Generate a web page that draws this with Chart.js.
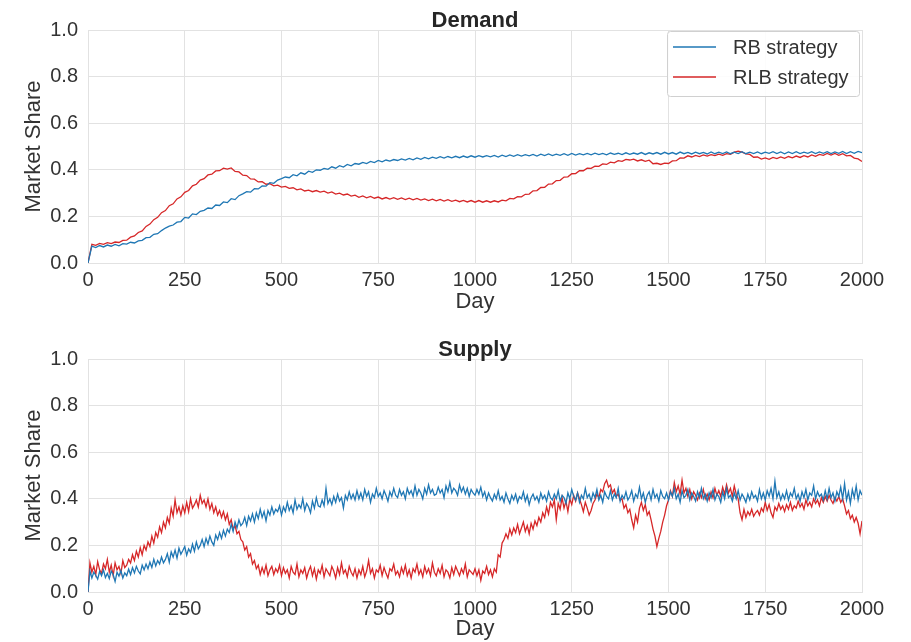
<!DOCTYPE html>
<html>
<head>
<meta charset="utf-8">
<script src="https://cdn.jsdelivr.net/npm/chart.js@4.4.1/dist/chart.umd.min.js"></script>
<style>
  html, body { margin: 0; padding: 0; background: #fff; }
  .panel { position: absolute; left: 0; width: 911px; height: 321px; }
  #demandPanel { top: 0; }
  #supplyPanel { top: 321px; }
</style>
</head>
<body>
<div class="panel" id="demandPanel"><canvas id="demandChart"></canvas></div>
<div class="panel" id="supplyPanel"><canvas id="supplyChart"></canvas></div>
<script>
// demand: one value every 10 days, supply: one every 5 days (day 0 .. 2000)
const DEMAND_STEP = 10;
const SUPPLY_STEP = 5;
const dayTicks = [0, 250, 500, 750, 1000, 1250, 1500, 1750, 2000];
const shareTicks = [0, 0.2, 0.4, 0.6, 0.8, 1.0];
const seriesNames = ['RB strategy', 'RLB strategy'];

const demandRB = [
  0.000, 0.072, 0.066, 0.075, 0.069, 0.077, 0.072, 0.080, 0.074, 0.083,
  0.081, 0.089, 0.086, 0.095, 0.097, 0.109, 0.110, 0.123, 0.126, 0.139,
  0.150, 0.158, 0.163, 0.175, 0.178, 0.196, 0.193, 0.211, 0.208, 0.222,
  0.226, 0.236, 0.234, 0.249, 0.247, 0.262, 0.259, 0.276, 0.272, 0.289,
  0.297, 0.306, 0.304, 0.319, 0.318, 0.331, 0.330, 0.345, 0.342, 0.356,
  0.362, 0.369, 0.366, 0.379, 0.374, 0.387, 0.381, 0.394, 0.389, 0.400,
  0.398, 0.406, 0.402, 0.413, 0.407, 0.418, 0.412, 0.423, 0.417, 0.427,
  0.424, 0.432, 0.427, 0.436, 0.431, 0.440, 0.434, 0.442, 0.437, 0.444,
  0.440, 0.447, 0.442, 0.449, 0.443, 0.451, 0.445, 0.453, 0.447, 0.454,
  0.449, 0.456, 0.450, 0.457, 0.451, 0.458, 0.452, 0.459, 0.453, 0.460,
  0.454, 0.461, 0.455, 0.461, 0.456, 0.462, 0.455, 0.463, 0.457, 0.464,
  0.458, 0.465, 0.459, 0.465, 0.460, 0.466, 0.459, 0.467, 0.461, 0.468,
  0.461, 0.467, 0.462, 0.469, 0.462, 0.470, 0.463, 0.469, 0.464, 0.470,
  0.464, 0.471, 0.465, 0.470, 0.464, 0.472, 0.466, 0.471, 0.465, 0.473,
  0.466, 0.472, 0.467, 0.474, 0.466, 0.473, 0.468, 0.474, 0.467, 0.475,
  0.468, 0.474, 0.467, 0.476, 0.469, 0.475, 0.468, 0.476, 0.469, 0.475,
  0.468, 0.477, 0.469, 0.476, 0.470, 0.477, 0.469, 0.476, 0.470, 0.478,
  0.469, 0.476, 0.470, 0.477, 0.469, 0.476, 0.471, 0.478, 0.470, 0.477,
  0.469, 0.477, 0.470, 0.478, 0.470, 0.476, 0.471, 0.478, 0.470, 0.477,
  0.471, 0.478, 0.470, 0.477, 0.471, 0.479, 0.470, 0.478, 0.471, 0.479,
  0.474
];

const demandRLB = [
  0.000, 0.080, 0.076, 0.084, 0.080, 0.087, 0.083, 0.090, 0.088, 0.097,
  0.098, 0.111, 0.116, 0.131, 0.138, 0.157, 0.167, 0.186, 0.196, 0.216,
  0.225, 0.246, 0.254, 0.275, 0.284, 0.303, 0.311, 0.331, 0.338, 0.356,
  0.362, 0.378, 0.381, 0.395, 0.396, 0.407, 0.403, 0.408, 0.393, 0.391,
  0.377, 0.375, 0.361, 0.360, 0.348, 0.349, 0.338, 0.340, 0.331, 0.334,
  0.326, 0.329, 0.320, 0.323, 0.314, 0.318, 0.309, 0.313, 0.306, 0.311,
  0.304, 0.308, 0.300, 0.305, 0.296, 0.300, 0.292, 0.296, 0.287, 0.291,
  0.282, 0.288, 0.280, 0.286, 0.278, 0.283, 0.275, 0.281, 0.274, 0.280,
  0.273, 0.279, 0.272, 0.278, 0.271, 0.277, 0.270, 0.275, 0.268, 0.274,
  0.267, 0.273, 0.266, 0.272, 0.265, 0.270, 0.263, 0.269, 0.262, 0.268,
  0.261, 0.268, 0.261, 0.267, 0.261, 0.267, 0.262, 0.270, 0.267, 0.277,
  0.275, 0.285, 0.284, 0.295, 0.296, 0.310, 0.311, 0.324, 0.325, 0.339,
  0.340, 0.354, 0.355, 0.369, 0.370, 0.383, 0.384, 0.396, 0.396, 0.407,
  0.406, 0.416, 0.415, 0.425, 0.423, 0.433, 0.430, 0.439, 0.436, 0.445,
  0.442, 0.446, 0.438, 0.443, 0.436, 0.441, 0.426, 0.428, 0.423, 0.429,
  0.427, 0.438, 0.439, 0.451, 0.450, 0.460, 0.455, 0.462, 0.457, 0.464,
  0.459, 0.465, 0.461, 0.467, 0.462, 0.469, 0.466, 0.476, 0.480, 0.476,
  0.468, 0.466, 0.454, 0.455, 0.446, 0.451, 0.445, 0.453, 0.448, 0.455,
  0.449, 0.457, 0.451, 0.459, 0.453, 0.461, 0.455, 0.464, 0.458, 0.466,
  0.462, 0.470, 0.463, 0.470, 0.462, 0.469, 0.460, 0.462, 0.450, 0.447,
  0.436
];

const supplyRB = [
  0.000, 0.090, 0.060, 0.085, 0.072, 0.055, 0.088, 0.070, 0.095, 0.062, 0.080, 0.058, 0.090, 0.075, 0.045, 0.085, 0.068, 0.092, 0.060, 0.082,
  0.070, 0.098, 0.075, 0.105, 0.082, 0.110, 0.090, 0.078, 0.115, 0.095, 0.120, 0.100, 0.128, 0.105, 0.140, 0.112, 0.135, 0.120, 0.150, 0.125,
  0.140, 0.165, 0.128, 0.172, 0.150, 0.180, 0.145, 0.188, 0.162, 0.178, 0.195, 0.158, 0.185, 0.170, 0.205, 0.175, 0.215, 0.185, 0.200, 0.225,
  0.195, 0.230, 0.205, 0.240, 0.215, 0.200, 0.245, 0.225, 0.255, 0.230, 0.265, 0.240, 0.270, 0.255, 0.290, 0.260, 0.300, 0.275, 0.310, 0.285,
  0.295, 0.320, 0.285, 0.325, 0.305, 0.335, 0.300, 0.340, 0.315, 0.355, 0.320, 0.345, 0.305, 0.350, 0.330, 0.365, 0.335, 0.355, 0.345, 0.370,
  0.330, 0.365, 0.345, 0.385, 0.350, 0.370, 0.340, 0.395, 0.355, 0.375, 0.360, 0.400, 0.350, 0.380, 0.365, 0.340, 0.390, 0.360, 0.405, 0.370,
  0.365, 0.395, 0.370, 0.445, 0.380, 0.400, 0.375, 0.410, 0.385, 0.420, 0.390, 0.405, 0.360, 0.415, 0.395, 0.430, 0.400, 0.420, 0.395, 0.435,
  0.400, 0.425, 0.395, 0.440, 0.410, 0.430, 0.385, 0.420, 0.405, 0.445, 0.410, 0.425, 0.400, 0.435, 0.415, 0.390, 0.430, 0.410, 0.445, 0.415,
  0.405, 0.440, 0.415, 0.430, 0.400, 0.445, 0.420, 0.435, 0.410, 0.455, 0.415, 0.440, 0.425, 0.400, 0.445, 0.420, 0.460, 0.425, 0.440, 0.415,
  0.420, 0.450, 0.425, 0.440, 0.405, 0.455, 0.430, 0.470, 0.425, 0.445, 0.435, 0.415, 0.460, 0.430, 0.450, 0.420, 0.445, 0.410, 0.440, 0.425,
  0.415, 0.440, 0.420, 0.450, 0.410, 0.430, 0.395, 0.425, 0.405, 0.390, 0.420, 0.400, 0.435, 0.395, 0.410, 0.385, 0.425, 0.400, 0.380, 0.415,
  0.395, 0.420, 0.385, 0.410, 0.400, 0.430, 0.390, 0.415, 0.375, 0.405, 0.420, 0.395, 0.410, 0.385, 0.425, 0.400, 0.415, 0.390, 0.430, 0.405,
  0.395, 0.420, 0.400, 0.435, 0.390, 0.415, 0.405, 0.380, 0.425, 0.400, 0.440, 0.410, 0.395, 0.425, 0.385, 0.415, 0.400, 0.445, 0.405, 0.420,
  0.390, 0.425, 0.405, 0.440, 0.395, 0.415, 0.385, 0.430, 0.410, 0.400, 0.435, 0.395, 0.420, 0.405, 0.445, 0.390, 0.415, 0.400, 0.430, 0.395,
  0.410, 0.435, 0.390, 0.420, 0.405, 0.450, 0.400, 0.425, 0.385, 0.415, 0.430, 0.395, 0.440, 0.405, 0.420, 0.390, 0.435, 0.410, 0.400, 0.425,
  0.395, 0.430, 0.410, 0.445, 0.400, 0.420, 0.385, 0.435, 0.405, 0.415, 0.440, 0.395, 0.425, 0.410, 0.390, 0.430, 0.405, 0.445, 0.400, 0.420,
  0.390, 0.425, 0.405, 0.440, 0.395, 0.420, 0.410, 0.385, 0.430, 0.400, 0.445, 0.405, 0.415, 0.390, 0.425, 0.400, 0.435, 0.395, 0.420, 0.405,
  0.385, 0.420, 0.395, 0.430, 0.405, 0.415, 0.390, 0.440, 0.400, 0.425, 0.395, 0.435, 0.410, 0.445, 0.400, 0.475, 0.405, 0.430, 0.395, 0.420,
  0.400, 0.435, 0.395, 0.425, 0.410, 0.445, 0.400, 0.420, 0.390, 0.430, 0.405, 0.440, 0.395, 0.425, 0.415, 0.455, 0.400, 0.430, 0.410, 0.420,
  0.395, 0.435, 0.400, 0.445, 0.405, 0.425, 0.390, 0.430, 0.410, 0.450, 0.400, 0.465, 0.395, 0.430, 0.380, 0.440, 0.405, 0.455, 0.395, 0.435,
  0.415
];

const supplyRLB = [
  0.000, 0.125, 0.085, 0.110, 0.075, 0.130, 0.095, 0.080, 0.120, 0.100, 0.140, 0.085, 0.115, 0.070, 0.125, 0.095, 0.110, 0.080, 0.135, 0.105,
  0.115, 0.140, 0.125, 0.160, 0.135, 0.175, 0.150, 0.190, 0.160, 0.200, 0.180, 0.215, 0.195, 0.240, 0.210, 0.255, 0.235, 0.280, 0.255, 0.300,
  0.275, 0.320, 0.295, 0.360, 0.325, 0.395, 0.340, 0.365, 0.330, 0.370, 0.340, 0.385, 0.345, 0.400, 0.360, 0.375, 0.395, 0.365, 0.415, 0.380,
  0.395, 0.365, 0.400, 0.355, 0.380, 0.340, 0.365, 0.330, 0.350, 0.320, 0.345, 0.310, 0.335, 0.290, 0.310, 0.270, 0.285, 0.250, 0.260, 0.225,
  0.215, 0.180, 0.195, 0.150, 0.165, 0.120, 0.135, 0.100, 0.115, 0.075, 0.105, 0.080, 0.115, 0.070, 0.095, 0.110, 0.075, 0.100, 0.085, 0.115,
  0.070, 0.105, 0.080, 0.095, 0.060, 0.110, 0.085, 0.075, 0.120, 0.065, 0.095, 0.080, 0.105, 0.060, 0.090, 0.110, 0.070, 0.100, 0.055, 0.095,
  0.080, 0.115, 0.065, 0.100, 0.085, 0.070, 0.110, 0.090, 0.060, 0.105, 0.075, 0.125, 0.080, 0.095, 0.065, 0.110, 0.085, 0.070, 0.100, 0.060,
  0.095, 0.075, 0.110, 0.065, 0.090, 0.135, 0.080, 0.100, 0.060, 0.095, 0.085, 0.115, 0.070, 0.105, 0.080, 0.060, 0.100, 0.090, 0.120, 0.075,
  0.090, 0.065, 0.105, 0.080, 0.115, 0.070, 0.095, 0.060, 0.100, 0.085, 0.120, 0.075, 0.095, 0.065, 0.110, 0.080, 0.100, 0.070, 0.125, 0.085,
  0.070, 0.100, 0.080, 0.115, 0.065, 0.095, 0.085, 0.060, 0.105, 0.075, 0.110, 0.090, 0.070, 0.100, 0.080, 0.120, 0.065, 0.095, 0.085, 0.075,
  0.100, 0.070, 0.095, 0.050, 0.090, 0.080, 0.110, 0.075, 0.095, 0.065, 0.100, 0.085, 0.160, 0.150, 0.210, 0.225, 0.250, 0.230, 0.270, 0.245,
  0.275, 0.255, 0.290, 0.250, 0.275, 0.300, 0.260, 0.285, 0.250, 0.295, 0.270, 0.305, 0.285, 0.320, 0.300, 0.340, 0.320, 0.365, 0.335, 0.385,
  0.365, 0.395, 0.310, 0.380, 0.355, 0.405, 0.360, 0.390, 0.345, 0.400, 0.375, 0.415, 0.390, 0.425, 0.400, 0.375, 0.345, 0.385, 0.360, 0.330,
  0.350, 0.380, 0.395, 0.420, 0.405, 0.440, 0.430, 0.465, 0.480, 0.450, 0.460, 0.425, 0.440, 0.410, 0.420, 0.395, 0.400, 0.360, 0.375, 0.340,
  0.355, 0.310, 0.275, 0.330, 0.300, 0.360, 0.385, 0.350, 0.375, 0.330, 0.345, 0.310, 0.270, 0.240, 0.195, 0.230, 0.260, 0.300, 0.330, 0.370,
  0.395, 0.435, 0.410, 0.470, 0.430, 0.455, 0.420, 0.480, 0.425, 0.445, 0.410, 0.440, 0.400, 0.430, 0.415, 0.395, 0.425, 0.405, 0.440, 0.400,
  0.420, 0.395, 0.430, 0.405, 0.445, 0.415, 0.435, 0.410, 0.450, 0.420, 0.460, 0.425, 0.445, 0.410, 0.455, 0.420, 0.400, 0.340, 0.310, 0.355,
  0.320, 0.345, 0.330, 0.355, 0.325, 0.340, 0.350, 0.330, 0.360, 0.345, 0.385, 0.350, 0.375, 0.340, 0.320, 0.365, 0.350, 0.380, 0.355, 0.370,
  0.345, 0.375, 0.355, 0.385, 0.350, 0.370, 0.360, 0.390, 0.365, 0.380, 0.355, 0.395, 0.370, 0.385, 0.365, 0.400, 0.380, 0.395, 0.370, 0.405,
  0.385, 0.410, 0.390, 0.415, 0.395, 0.380, 0.405, 0.390, 0.410, 0.385, 0.400, 0.370, 0.335, 0.350, 0.315, 0.330, 0.300, 0.320, 0.295, 0.250,
  0.305
];

const BLUE = '#1f77b4';
const RED = '#d62728';
const GRID = '#e2e2e2';
const TEXT = '#333333';
const FONT = "'Liberation Sans', Arial, sans-serif";

function toPoints(values, step) {
  return values.map((v, i) => ({ x: i * step, y: v }));
}

// panel title drawn just above the plot area
const panelTitlePlugin = {
  id: 'panelTitle',
  afterDraw(chart, args, opts) {
    const { ctx, chartArea } = chart;
    ctx.save();
    ctx.fillStyle = '#262626';
    ctx.font = 'bold 22px ' + FONT;
    ctx.textAlign = 'center';
    ctx.textBaseline = 'alphabetic';
    ctx.fillText(opts.text, (chartArea.left + chartArea.right) / 2, chartArea.top - 3);
    ctx.restore();
  }
};

// boxed legend in the upper right corner of the plot
const legendBoxPlugin = {
  id: 'legendBox',
  afterDraw(chart, args, opts) {
    if (!opts.show) return;
    const { ctx, chartArea } = chart;
    const w = 192, h = 65;
    const x = chartArea.right - w - 3;
    const y = chartArea.top + 1;
    ctx.save();
    ctx.fillStyle = 'rgba(255,255,255,0.9)';
    ctx.strokeStyle = '#d0d0d0';
    ctx.lineWidth = 1;
    ctx.beginPath();
    ctx.roundRect(x + 0.5, y + 0.5, w, h, 3);
    ctx.fill();
    ctx.stroke();
    ctx.font = '20px ' + FONT;
    ctx.textBaseline = 'middle';
    ctx.textAlign = 'left';
    chart.data.datasets.forEach((ds, i) => {
      const ly = y + 16 + i * 30;
      ctx.strokeStyle = ds.borderColor;
      ctx.lineWidth = 1.5;
      ctx.beginPath();
      ctx.moveTo(x + 6, ly);
      ctx.lineTo(x + 49, ly);
      ctx.stroke();
      ctx.fillStyle = TEXT;
      ctx.fillText(ds.label, x + 66, ly + 1);
    });
    ctx.restore();
  }
};

function makePanel(canvasId, title, rb, rlb, step, topPad, axisHeight, dayPad, showLegend) {
  const ctx = document.getElementById(canvasId).getContext('2d');
  return new Chart(ctx, {
    type: 'line',
    data: {
      datasets: [{
        label: seriesNames[0],
        data: toPoints(rb, step),
        borderColor: BLUE,
        borderWidth: 1.3,
        pointRadius: 0,
        tension: 0
      }, {
        label: seriesNames[1],
        data: toPoints(rlb, step),
        borderColor: RED,
        borderWidth: 1.3,
        pointRadius: 0,
        tension: 0
      }]
    },
    options: {
      responsive: true,
      maintainAspectRatio: false,
      animation: false,
      layout: {
        padding: { top: topPad, right: 49, bottom: 0, left: 0 }
      },
      scales: {
        x: {
          type: 'linear',
          min: 0,
          max: 2000,
          afterBuildTicks: (scale) => {
            scale.ticks = dayTicks.map(v => ({ value: v }));
          },
          afterFit: (scale) => { scale.height = axisHeight; },
          grid: { color: GRID, drawTicks: false },
          border: { color: GRID },
          ticks: {
            color: TEXT,
            padding: 5,
            maxRotation: 0,
            font: { family: FONT, size: 20 },
            callback: (v) => String(v)
          },
          title: {
            display: true,
            text: 'Day',
            color: TEXT,
            padding: { top: 0, bottom: dayPad },
            font: { family: FONT, size: 22 }
          }
        },
        y: {
          min: 0,
          max: 1,
          afterBuildTicks: (scale) => {
            scale.ticks = shareTicks.map(v => ({ value: v }));
          },
          afterFit: (scale) => { scale.width = 88; },
          grid: { color: GRID, drawTicks: false },
          border: { color: GRID },
          ticks: {
            color: TEXT,
            padding: 10,
            font: { family: FONT, size: 20 },
            callback: (v) => v.toFixed(1)
          },
          title: {
            display: true,
            text: 'Market Share',
            color: TEXT,
            padding: { top: 21, bottom: 0 },
            font: { family: FONT, size: 22 }
          }
        }
      },
      plugins: {
        legend: { display: false },
        tooltip: { enabled: false },
        panelTitle: { text: title },
        legendBox: { show: showLegend }
      }
    },
    plugins: [panelTitlePlugin, legendBoxPlugin]
  });
}

makePanel('demandChart', 'Demand', demandRB, demandRLB, DEMAND_STEP, 30, 58, 6, true);
makePanel('supplyChart', 'Supply', supplyRB, supplyRLB, SUPPLY_STEP, 38, 50, 0, false);
</script>
</body>
</html>
